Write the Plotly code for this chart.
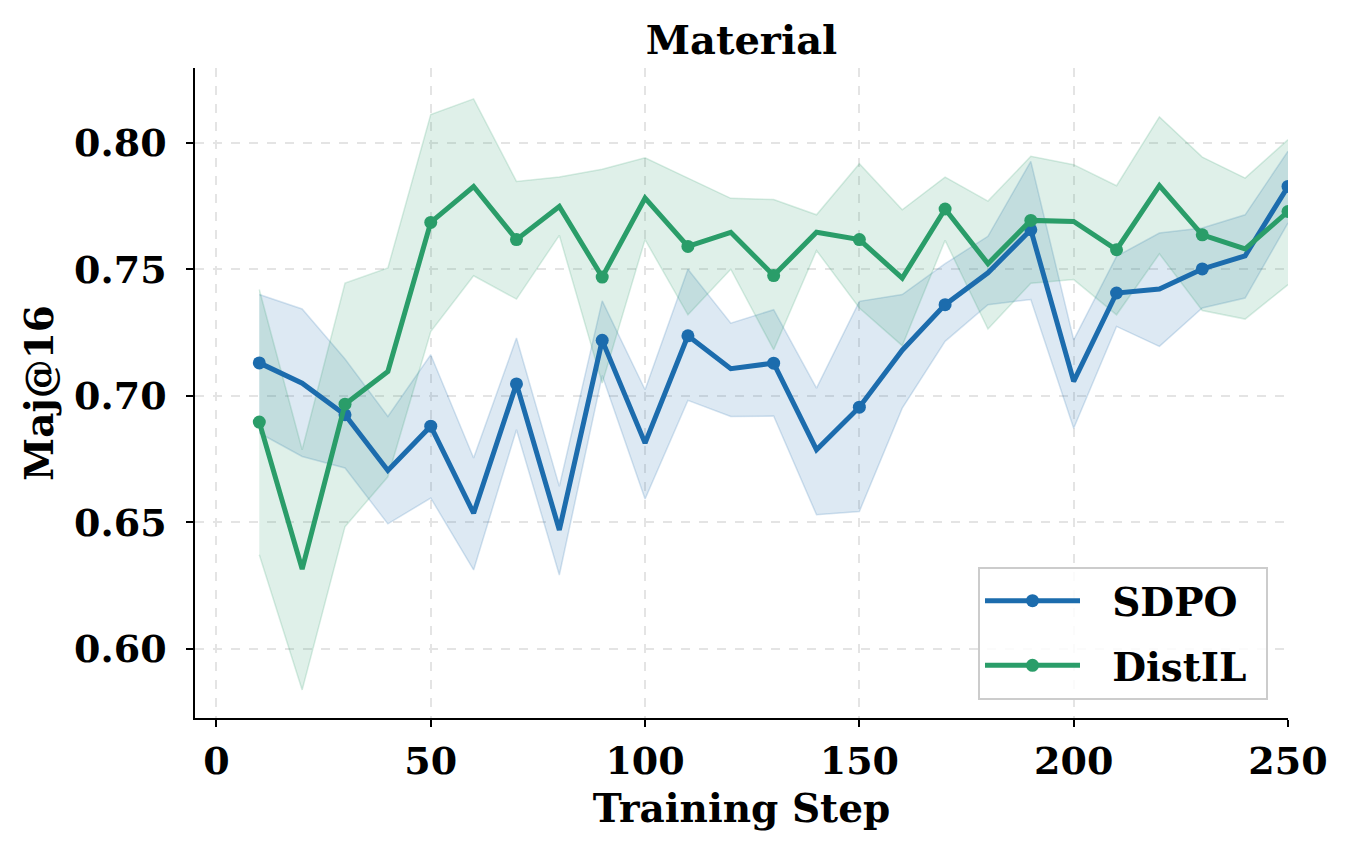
import plotly.graph_objects as go

steps = [10, 20, 30, 40, 50, 60, 70, 80, 90, 100, 110, 120, 130, 140, 150, 160, 170, 180, 190, 200, 210, 220, 230, 240, 250]

sdpo_mean = [0.713, 0.705, 0.6925, 0.6705, 0.688, 0.6536, 0.7047, 0.647, 0.7219, 0.6813, 0.7237, 0.7107, 0.7129,
             0.6787, 0.6955, 0.718, 0.736, 0.7486, 0.7656, 0.7057, 0.7406, 0.7422, 0.7501, 0.7553, 0.7827]
sdpo_upper = [0.740, 0.7343, 0.7145, 0.6918, 0.7162, 0.6754, 0.7228, 0.6642, 0.7375, 0.7024, 0.750, 0.7287, 0.734,
              0.703, 0.7373, 0.740, 0.7522, 0.763, 0.7926, 0.7221, 0.7551, 0.7643, 0.7663, 0.7715, 0.7966]
sdpo_lower = [0.6853, 0.676, 0.6715, 0.6494, 0.6596, 0.6312, 0.6866, 0.6292, 0.708, 0.6592, 0.6982, 0.6918, 0.692,
              0.653, 0.6543, 0.6951, 0.7215, 0.736, 0.738, 0.6872, 0.7274, 0.7195, 0.7347, 0.7386, 0.7683]

distil_mean = [0.6896, 0.6315, 0.6967, 0.7096, 0.7685, 0.7827, 0.7617, 0.7748, 0.7469, 0.7781, 0.759, 0.7646, 0.7475,
               0.7646, 0.7617, 0.7465, 0.7738, 0.7522, 0.7693, 0.7689, 0.7577, 0.783, 0.7636, 0.758, 0.7728]
distil_upper = [0.742, 0.6787, 0.7445, 0.7505, 0.8111, 0.8173, 0.7847, 0.7864, 0.7895, 0.794, 0.786, 0.778, 0.7775,
                0.7715, 0.7917, 0.7735, 0.7864, 0.7769, 0.7946, 0.7913, 0.783, 0.8102, 0.7943, 0.786, 0.8012]
distil_lower = [0.6372, 0.5838, 0.6483, 0.668, 0.7254, 0.7474, 0.7382, 0.7634, 0.705, 0.7617, 0.732, 0.750, 0.7182,
                0.7574, 0.7347, 0.7198, 0.7614, 0.7264, 0.7445, 0.7459, 0.732, 0.7561, 0.7337, 0.7303, 0.7439]

x_ticks = [0, 50, 100, 150, 200, 250]
y_ticks = [0.60, 0.65, 0.70, 0.75, 0.80]

BLUE = "#1c6cad"
GREEN = "#2a9d69"
FONT = "DejaVu Serif"
NB = "\u00a0"

series = [
    ("SDPO", sdpo_mean, sdpo_upper, sdpo_lower, BLUE, "rgba(28,108,173,0.15)", "rgba(28,108,173,0.18)"),
    ("DistIL", distil_mean, distil_upper, distil_lower, GREEN, "rgba(42,157,105,0.15)", "rgba(42,157,105,0.18)"),
]

fig = go.Figure()
marker_sizes = [13 if i % 2 == 0 else 0 for i in range(len(steps))]

for name, mean, up, lo, col, fillc, edgec in series:
    fig.add_trace(go.Scatter(x=steps, y=up, mode="lines", line=dict(color=edgec, width=1.5),
                             showlegend=False, hoverinfo="skip"))
    fig.add_trace(go.Scatter(x=steps, y=lo, mode="lines", line=dict(color=edgec, width=1.5),
                             fill="tonexty", fillcolor=fillc, showlegend=False, hoverinfo="skip"))
for name, mean, up, lo, col, fillc, edgec in series:
    fig.add_trace(go.Scatter(x=steps, y=mean, mode="lines+markers", name=name, showlegend=False,
                             line=dict(color=col, width=5),
                             marker=dict(color=col, size=marker_sizes, opacity=1, line=dict(width=0))))
# legend-only entries
for name, mean, up, lo, col, fillc, edgec in series:
    fig.add_trace(go.Scatter(x=[None], y=[None], mode="lines+markers", name=NB * 2 + name + NB,
                             legendgroup=name,
                             line=dict(color=col, width=5),
                             marker=dict(color=col, size=13, opacity=1, line=dict(width=0))))

axis_common = dict(
    showline=True, linecolor="black", linewidth=1.5, mirror=False,
    ticks="outside", ticklen=7, tickwidth=1.5, tickcolor="black",
    showgrid=True, gridcolor="#e4e4e4", gridwidth=1.5, griddash="dash",
    zeroline=False,
    tickfont=dict(family=FONT, size=38, color="black", weight="bold"),
)

fig.update_layout(
    width=1352, height=855,
    margin=dict(l=195, r=64, t=68, b=137),
    paper_bgcolor="white", plot_bgcolor="white",
    title=dict(text="<b>Material</b>", x=(195 + 1288) / 2 / 1352, xanchor="center",
               y=1 - 40 / 855, yanchor="middle",
               font=dict(family=FONT, size=40, color="black")),
    xaxis=dict(range=[-5, 250], tickvals=x_ticks, ticktext=[str(v) for v in x_ticks],
               title=dict(text="<b>Training Step</b>", font=dict(family=FONT, size=39, color="black"), standoff=12),
               ticklabelstandoff=2, **axis_common),
    yaxis=dict(range=[0.5727, 0.8295], tickvals=y_ticks, ticktext=[f"{v:.2f}" for v in y_ticks],
               title=dict(text="<b>Maj@16</b>", font=dict(family=FONT, size=39, color="black"), standoff=8),
               ticklabelstandoff=12, **axis_common),
    legend=dict(x=0.9817, xanchor="right", y=0.028, yanchor="bottom",
                bgcolor="rgba(255,255,255,0.85)", bordercolor="#cccccc", borderwidth=2,
                font=dict(family=FONT, size=39, color="black", weight="bold"),
                tracegroupgap=11, itemwidth=95),
    showlegend=True,
)

fig.write_html("out.html")
